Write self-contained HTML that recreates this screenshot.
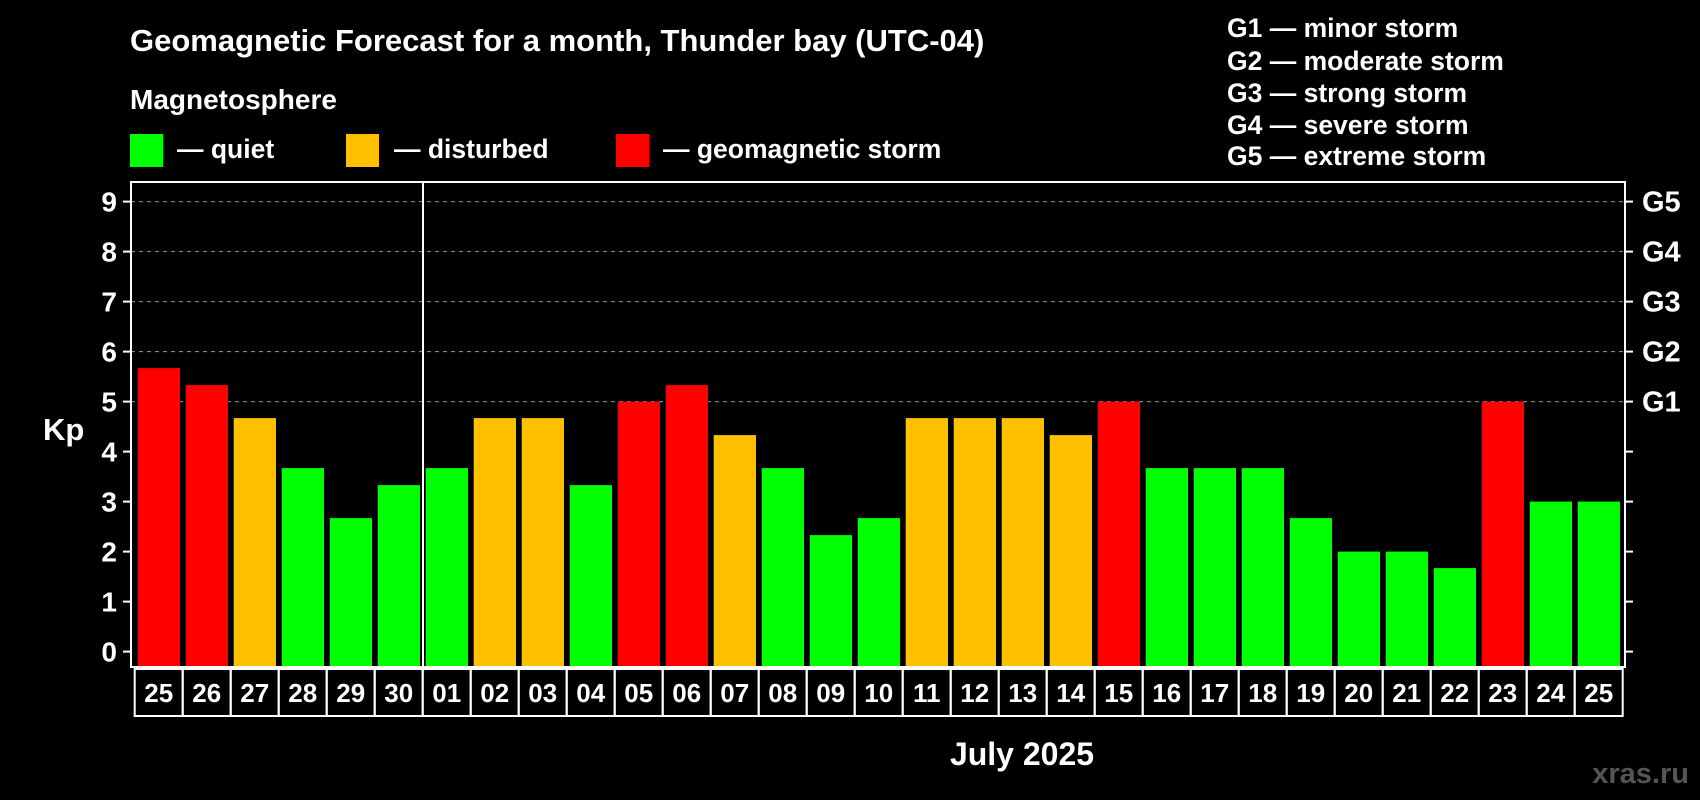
<!DOCTYPE html>
<html><head><meta charset="utf-8"><style>
body{margin:0;background:#000;width:1700px;height:800px;overflow:hidden}
svg{display:block;font-family:"Liberation Sans",sans-serif;font-weight:bold}
</style></head><body>
<svg id="chart" width="1700" height="800">
<rect width="1700" height="800" fill="#000"/>
<text x="130" y="51" fill="#fff" font-size="31">Geomagnetic Forecast for a month, Thunder bay (UTC-04)</text>
<text x="130" y="109" fill="#fff" font-size="28">Magnetosphere</text>
<g><rect x="130" y="134" width="33" height="33" fill="#00ff00"/><text x="177" y="158" fill="#fff" font-size="26.5">— quiet</text></g>
<g><rect x="346" y="134" width="33" height="33" fill="#ffc000"/><text x="394" y="158" fill="#fff" font-size="26.5">— disturbed</text></g>
<g><rect x="616" y="134" width="33" height="33" fill="#ff0000"/><text x="663" y="158" fill="#fff" font-size="26.5">— geomagnetic storm</text></g>
<g fill="#fff" font-size="26.5">
<text x="1227" y="37">G1 — minor storm</text>
<text x="1227" y="70">G2 — moderate storm</text>
<text x="1227" y="102">G3 — strong storm</text>
<text x="1227" y="134">G4 — severe storm</text>
<text x="1227" y="165">G5 — extreme storm</text>
</g>
<text x="43" y="440" fill="#fff" font-size="31">Kp</text>
<text x="1022" y="765" fill="#fff" font-size="32" text-anchor="middle">July 2025</text>
<text x="1689" y="783" fill="#555" font-size="29" text-anchor="end">xras.ru</text>
<g id="grid"></g><g id="bars"></g><g id="axes"></g><g id="xlabels"></g>
</svg>
<script>
const days=["25","26","27","28","29","30","01","02","03","04","05","06","07","08","09","10","11","12","13","14","15","16","17","18","19","20","21","22","23","24","25"];
const kp=[5.67,5.33,4.67,3.67,2.67,3.33,3.67,4.67,4.67,3.33,5,5.33,4.33,3.67,2.33,2.67,4.67,4.67,4.67,4.33,5,3.67,3.67,3.67,2.67,2,2,1.67,5,3,3];
const yTicks=[0,1,2,3,4,5,6,7,8,9];
const gLabels=["G1","G2","G3","G4","G5"];
const NS="http://www.w3.org/2000/svg";
const L=131,R=1625,T=182,B=667,Y0=651.6,UNIT=50,X0=137.7,PITCH=48,BW=42.3;
const y=v=>Y0-v*UNIT, x=i=>X0+i*PITCH;
function mk(tag,attrs,parent){const e=document.createElementNS(NS,tag);for(const k in attrs)e.setAttribute(k,attrs[k]);parent.appendChild(e);return e;}
const grid=document.getElementById('grid'),bars=document.getElementById('bars'),axes=document.getElementById('axes'),xl=document.getElementById('xlabels');
yTicks.forEach(v=>{
  if(v>=5){const g=mk('line',{x1:L,x2:R,y1:y(v),y2:y(v),stroke:'#999','stroke-dasharray':'4,4','stroke-width':1},grid);
  
  }
  const t1=mk('line',{x1:L-8,x2:L,y1:y(v),y2:y(v),stroke:'#fff','stroke-width':2},axes);
  
  
  const t2=mk('line',{x1:R,x2:R+8,y1:y(v),y2:y(v),stroke:'#fff','stroke-width':2},axes);
  
  
  const tl=mk('text',{x:L-14,y:y(v)+10,fill:'#fff','font-size':28,'text-anchor':'end'},axes);
  tl.textContent=v;
  
  
});
gLabels.forEach((g,i)=>{
  const t=mk('text',{x:R+17,y:y(5+i)+10,fill:'#fff','font-size':29},axes);
  t.textContent=g;
  
  
});
kp.forEach((v,i)=>{
  const c=v>=5?'#ff0000':(v>=4?'#ffc000':'#00ff00');
  const b=mk('rect',{x:x(i),y:y(v),width:BW,height:B-y(v),fill:c},bars);
  
  
});
const fr=mk('rect',{x:L,y:T,width:R-L,height:B-T,fill:'none',stroke:'#fff','stroke-width':2},axes);


const sep=mk('line',{x1:423,x2:423,y1:T,y2:B,stroke:'#fff','stroke-width':2},axes);


days.forEach((d,i)=>{
  const cx=x(i)-3;
  const r=mk('rect',{x:cx,y:669,width:PITCH,height:47,fill:'none',stroke:'#fff','stroke-width':2},xl);
  
  
  const t=mk('text',{x:cx+PITCH/2,y:702,fill:'#fff','font-size':26,'text-anchor':'middle'},xl);
  t.textContent=d;
  
  
});
</script>
</body></html>
